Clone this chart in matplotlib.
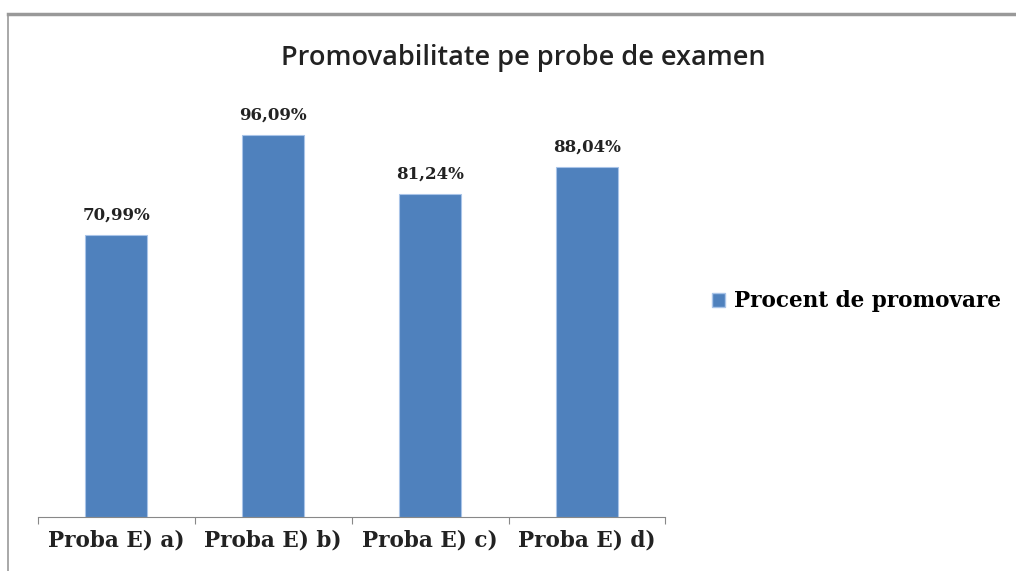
import matplotlib
matplotlib.use("Agg")
import matplotlib.pyplot as plt
from matplotlib.lines import Line2D
from matplotlib.patches import Patch
import numpy as np

categories = ["Proba E) a)", "Proba E) b)", "Proba E) c)", "Proba E) d)"]
values = [70.99, 96.09, 81.24, 88.04]
labels = ["70,99%", "96,09%", "81,24%", "88,04%"]
series_name = "Procent de promovare"
title = "Promovabilitate pe probe de examen"

bar_color = "#4f81bd"
serif = "DejaVu Serif"

fig = plt.figure(figsize=(10.16, 5.71), dpi=100)
ax = fig.add_axes([0.037, 0.0946, 0.618, 0.765])

x = np.arange(len(categories))
ax.bar(x, values, width=0.4, color=bar_color, edgecolor="#a9c4e8", linewidth=0.8)
for xi, v, lab in zip(x, values, labels):
    ax.text(xi, v + 3, lab, ha="center", va="bottom", fontsize=12,
            fontfamily=serif, fontweight="bold", color="#222222")

ax.set_xlim(-0.5, len(categories) - 0.5)
ax.set_ylim(0, 110)
ax.set_yticks([])
ax.set_xticks(np.arange(len(categories) + 1) - 0.5, minor=False)
ax.set_xticklabels([])
ax.tick_params(axis="x", length=5, color="#888888", direction="out")
ax.set_xticks(x, minor=True)
ax.set_xticklabels(categories, minor=True, fontsize=15.5,
                   fontfamily=serif, fontweight="bold", color="#222222")
ax.tick_params(axis="x", which="minor", length=0, pad=9)
for s in ["top", "right", "left"]:
    ax.spines[s].set_visible(False)
ax.spines["bottom"].set_color("#888888")

fig.text(0.515, 0.898, title, ha="center", va="center", fontsize=19.5,
         fontfamily="Open Sans", fontweight="semibold", color="#222222")

handle = Patch(facecolor=bar_color, edgecolor="#a9c4e8")
fig.legend([handle], [series_name], loc="center left", bbox_to_anchor=(0.682, 0.472),
           frameon=False, prop={"family": serif, "weight": "bold", "size": 15.5},
           handlelength=0.6, handleheight=0.6, handletextpad=0.4)

# outer chart frame
fig.add_artist(Line2D([0.008, 1.0], [0.975, 0.975], transform=fig.transFigure,
                      color="#999999", linewidth=2.5))
fig.add_artist(Line2D([0.008, 0.008], [0.0, 0.975], transform=fig.transFigure,
                      color="#999999", linewidth=1.2))

fig.savefig("out.png", dpi=100)
